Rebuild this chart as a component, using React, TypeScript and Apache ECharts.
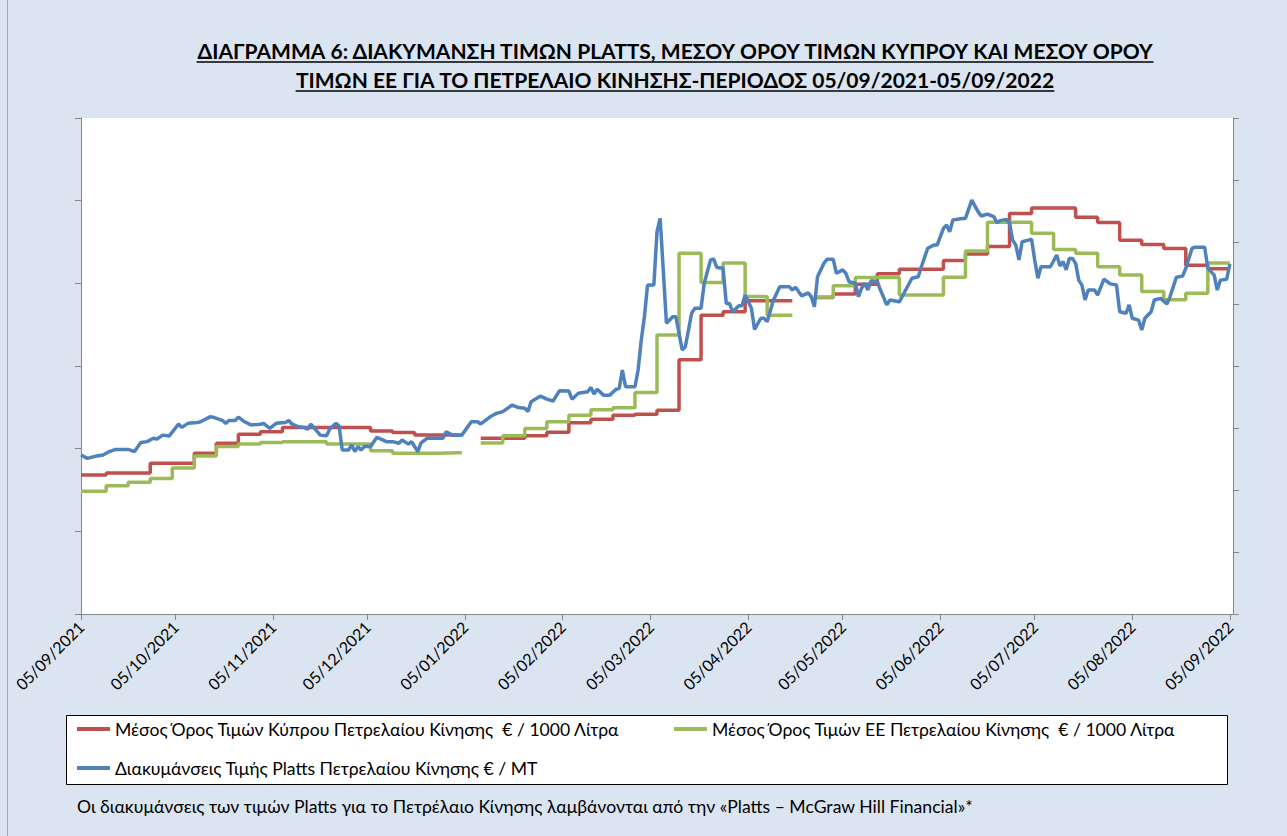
import React, { useEffect, useRef } from "react";
import * as echarts from "echarts";

// ---------- categories: one per day, 05/09/2021 .. 06/09/2022 ----------
const START_UTC = Date.UTC(2021, 8, 5);
const DAY_COUNT = 367;

// ---------- texts ----------
const TITLE_LINE_1 = "ΔΙΑΓΡΑΜΜΑ 6: ΔΙΑΚΥΜΑΝΣΗ ΤΙΜΩΝ PLATTS, ΜΕΣΟΥ ΟΡΟΥ ΤΙΜΩΝ ΚΥΠΡΟΥ ΚΑΙ ΜΕΣΟΥ ΟΡΟΥ";
const TITLE_LINE_2 = "ΤΙΜΩΝ ΕΕ ΓΙΑ ΤΟ ΠΕΤΡΕΛΑΙΟ ΚΙΝΗΣΗΣ-ΠΕΡΙΟΔΟΣ 05/09/2021-05/09/2022";
const NAME_CY = "Μέσος Όρος Τιμών Κύπρου Πετρελαίου Κίνησης  € / 1000 Λίτρα";
const NAME_EU = "Μέσος Όρος Τιμών ΕΕ Πετρελαίου Κίνησης  € / 1000 Λίτρα";
const NAME_PLATTS = "Διακυμάνσεις Τιμής Platts Πετρελαίου Κίνησης € / MT";
const FOOTNOTE = "Οι διακυμάνσεις των τιμών Platts για το Πετρέλαιο Κίνησης λαμβάνονται από την «Platts – McGraw Hill Financial»*";

// ---------- Cyprus average (left axis, € / 1000 L); null = gap ----------
const cyDays = [
  0, 8, 22, 36, 43, 50, 57, 64, 92, 99, 106, 120, 121,
  127, 141, 148, 155, 162, 169, 176, 183, 190, 197, 204, 211, 225, 226,
  233, 239, 246, 253, 260, 274, 281, 288, 295, 302, 316, 323, 330, 337, 344, 351, 358, 365,
];
const cyValues = [
  1336, 1341, 1365, 1389, 1413, 1435, 1441, 1451, 1443, 1439, 1433, 1433, null,
  1425, 1431, 1440, 1463, 1471, 1481, 1483, 1493, 1615, 1723, 1731, 1758, 1758, null,
  1766, 1774, 1798, 1823, 1834, 1855, 1871, 1889, 1969, 1982, 1960, 1947, 1904, 1894, 1884, 1844, 1835, 1835,
];

// ---------- EU average (left axis, € / 1000 L); null = gap ----------
const euDays = [
  0, 8, 15, 22, 29, 36, 43, 50, 57, 64, 78, 92, 99, 113, 120, 121,
  127, 134, 141, 148, 155, 162, 169, 176, 183, 190, 197, 204, 211, 218, 225, 226,
  233, 239, 246, 260, 274, 281, 288, 302, 309, 316, 323, 330, 337, 344, 351, 358, 365,
];
const euValues = [
  1297, 1310, 1319, 1328, 1353, 1382, 1405, 1411, 1415, 1417, 1411, 1395, 1389, 1390, 1390, null,
  1414, 1431, 1449, 1465, 1481, 1494, 1499, 1536, 1675, 1873, 1802, 1849, 1768, 1723, 1723, null,
  1767, 1794, 1814, 1772, 1815, 1878, 1948, 1921, 1882, 1873, 1840, 1820, 1780, 1760, 1776, 1849, 1849,
];

// ---------- Platts (right axis, € / MT) ----------
const plattsDays = [
  0, 2, 5, 7, 9, 11, 15, 17, 19, 21, 23, 24, 26, 28, 31, 32, 34, 37, 38, 41, 42, 45, 46, 47, 49, 50,
  52, 54, 57, 58, 60, 62, 65, 66, 67, 69, 71, 72, 73, 74, 76, 78, 79, 81, 82, 83, 85, 86, 87, 88, 89,
  90, 92, 94, 96, 97, 99, 101, 102, 104, 105, 107, 108, 110, 115, 116, 118, 121, 124, 126, 127, 130,
  131, 132, 134, 137, 139, 141, 142, 143, 146, 148, 150, 152, 155, 156, 158, 161, 162, 163, 164, 166,
  168, 170, 171, 172, 173, 176, 177, 178, 179, 180, 182, 183, 184, 186, 188, 189, 191, 192, 194, 195,
  197, 198, 200, 201, 202, 204, 205, 206, 207, 209, 210, 211, 213, 214, 216, 217, 218, 220, 222, 225,
  226, 227, 229, 231, 232, 233, 234, 236, 237, 239, 240, 242, 243, 244, 246, 247, 248, 249, 250, 251,
  253, 254, 256, 257, 260, 262, 264, 266, 267, 269, 271, 272, 274, 275, 276, 277, 280, 281, 283, 285,
  286, 287, 288, 290, 291, 292, 294, 295, 296, 297, 298, 299, 301, 302, 303, 304, 305, 308, 310, 311,
  312, 313, 314, 315, 316, 317, 318, 319, 320, 322, 323, 325, 327, 329, 330, 332, 333, 334, 336, 337,
  338, 340, 341, 343, 345, 346, 348, 350, 351, 353, 354, 357, 358, 360, 361, 362, 364, 365,
];
const plattsValues = [
  513, 502, 510, 513, 524, 531, 531, 524, 553, 556, 567, 564, 577, 574, 613, 602, 615, 618, 620, 636, 635, 624, 615, 624, 624, 635,
  620, 610, 612, 615, 599, 615, 618, 624, 613, 604, 602, 596, 612, 601, 577, 575, 596, 615, 606, 529, 529, 545, 524, 540, 529,
  540, 540, 570, 561, 556, 556, 551, 561, 548, 556, 524, 551, 567, 567, 588, 577, 577, 620, 620, 613, 636,
  642, 647, 653, 674, 666, 664, 653, 685, 703, 693, 687, 720, 719, 693, 712, 717, 731, 710, 725, 706,
  706, 725, 728, 787, 733, 733, 787, 884, 959, 1061, 1061, 1233, 1276, 938, 959, 959, 852, 862, 970, 986,
  986, 1067, 1142, 1145, 1118, 1115, 1002, 1002, 975, 994, 994, 1029, 986, 918, 954, 954, 943, 1013, 1056, 1056,
  1045, 1054, 1026, 1036, 1024, 991, 1088, 1131, 1144, 1144, 1099, 1110, 1099, 1072, 1067, 1024, 1051, 1067, 1045, 1075,
  1072, 1045, 997, 1013, 1007, 1045, 1083, 1088, 1120, 1180, 1190, 1190, 1244, 1255, 1233, 1271, 1276, 1276, 1335, 1298,
  1284, 1287, 1290, 1282, 1262, 1269, 1273, 1260, 1206, 1190, 1142, 1201, 1206, 1209, 1142, 1083, 1120, 1120, 1158, 1123,
  1137, 1110, 1147, 1147, 1131, 1077, 1061, 1013, 1045, 1045, 1029, 1080, 1065, 1061, 975, 970, 997, 954, 948, 916,
  954, 975, 1013, 1018, 1000, 1024, 1086, 1090, 1115, 1180, 1183, 1183, 1115, 1094, 1045, 1077, 1080, 1129,
];

// ---------- axis scales (labels are hidden in the original) ----------
const LEFT_MIN = 1000;
const LEFT_MAX = 2200;
const LEFT_STEP = 200;
const RIGHT_MIN = 0;
const RIGHT_MAX = 1600;
const RIGHT_STEP = 200;

const COLOR_CY = "#C0504D";
const COLOR_EU = "#9BBB59";
const COLOR_PLATTS = "#4F81BD";
const BG = "#DBE5F1";
const AXIS_GRAY = "#868686";
const FONT = "Lato, 'Liberation Sans', sans-serif";

function pad(n: number) {
  return n < 10 ? "0" + n : String(n);
}
function buildDates(): string[] {
  const out: string[] = [];
  for (let i = 0; i < DAY_COUNT; i++) {
    const d = new Date(START_UTC + i * 86400000);
    out.push(pad(d.getUTCDate()) + "/" + pad(d.getUTCMonth() + 1) + "/" + d.getUTCFullYear());
  }
  return out;
}
function pairs(days: number[], values: (number | null)[]) {
  return days.map((d, i) => [d, values[i] === null ? "-" : values[i]]);
}
function measure(text: string, font: string) {
  const c = document.createElement("canvas").getContext("2d");
  if (!c) return text.length * 12;
  c.font = font;
  return c.measureText(text).width;
}

export default function App() {
  const ref = useRef<HTMLDivElement>(null);
  useEffect(() => {
    document.body.style.margin = "0";
    if (!ref.current) return;
    const chart = echarts.init(ref.current, null, { renderer: "svg" });
    const dates = buildDates();
    const monthTick = (_i: number, v: string) => v.startsWith("05/");

    const titleFont = "bold 21px " + FONT;
    const w1 = measure(TITLE_LINE_1, titleFont);
    const w2 = measure(TITLE_LINE_2, titleFont);
    const cx = 675;
    const y1 = 50;
    const y2 = 79;
    const legendText = { color: "#000", fontSize: 17.6, fontFamily: FONT };

    chart.setOption({
      animation: false,
      backgroundColor: BG,
      grid: { left: 81, right: 54, top: 118, bottom: 222, show: true, backgroundColor: "#FFFFFF", borderWidth: 0 },
      xAxis: {
        type: "category",
        data: dates,
        boundaryGap: false,
        axisLine: { lineStyle: { color: AXIS_GRAY, width: 1 } },
        axisTick: { show: true, interval: monthTick, length: 6, lineStyle: { color: AXIS_GRAY } },
        axisLabel: {
          interval: monthTick,
          rotate: 45,
          margin: 10,
          color: "#000",
          fontSize: 16,
          fontFamily: FONT,
        },
        splitLine: { show: false },
      },
      yAxis: [
        {
          type: "value",
          min: LEFT_MIN,
          max: LEFT_MAX,
          interval: LEFT_STEP,
          position: "left",
          axisLine: { show: true, lineStyle: { color: AXIS_GRAY } },
          axisTick: { show: true, length: 6, lineStyle: { color: AXIS_GRAY } },
          axisLabel: { show: false },
          splitLine: { show: false },
        },
        {
          type: "value",
          min: RIGHT_MIN,
          max: RIGHT_MAX,
          interval: RIGHT_STEP,
          position: "right",
          axisLine: { show: true, lineStyle: { color: AXIS_GRAY } },
          axisTick: { show: true, length: 6, lineStyle: { color: AXIS_GRAY } },
          axisLabel: { show: false },
          splitLine: { show: false },
        },
      ],
      legend: [
        {
          data: [NAME_CY],
          left: 72,
          top: 715,
          icon: "rect",
          itemWidth: 33,
          itemHeight: 4,
          itemGap: 0,
          textStyle: legendText,
        },
        {
          data: [NAME_EU],
          left: 669,
          top: 715,
          icon: "rect",
          itemWidth: 33,
          itemHeight: 4,
          itemGap: 0,
          textStyle: legendText,
        },
        {
          data: [NAME_PLATTS],
          left: 72,
          top: 754,
          icon: "rect",
          itemWidth: 33,
          itemHeight: 4,
          itemGap: 0,
          textStyle: legendText,
        },
      ],
      graphic: [
        {
          type: "line",
          shape: { x1: 7.5, y1: 0, x2: 7.5, y2: 836 },
          style: { stroke: "#A6A6A6", lineWidth: 1 },
        },
        {
          type: "rect",
          z: 0,
          shape: { x: 66.5, y: 715.5, width: 1161, height: 69 },
          style: { fill: "#FFFFFF", stroke: "#000000", lineWidth: 1 },
        },
        {
          type: "text",
          x: cx,
          y: y1,
          style: { text: TITLE_LINE_1, font: titleFont, fill: "#000", textAlign: "center", textVerticalAlign: "middle" },
        },
        {
          type: "text",
          x: cx,
          y: y2,
          style: { text: TITLE_LINE_2, font: titleFont, fill: "#000", textAlign: "center", textVerticalAlign: "middle" },
        },
        {
          type: "line",
          shape: { x1: cx - w1 / 2, y1: y1 + 12, x2: cx + w1 / 2, y2: y1 + 12 },
          style: { stroke: "#000", lineWidth: 1.5 },
        },
        {
          type: "line",
          shape: { x1: cx - w2 / 2, y1: y2 + 12, x2: cx + w2 / 2, y2: y2 + 12 },
          style: { stroke: "#000", lineWidth: 1.5 },
        },
        {
          type: "text",
          x: 77,
          y: 806,
          style: { text: FOOTNOTE, font: "17.6px " + FONT, fill: "#000", textAlign: "left", textVerticalAlign: "middle" },
        },
      ],
      series: [
        {
          name: NAME_CY,
          type: "line",
          yAxisIndex: 0,
          step: "end",
          data: pairs(cyDays, cyValues),
          showSymbol: false,
          symbol: "none",
          connectNulls: false,
          lineStyle: { color: COLOR_CY, width: 3.5 },
          itemStyle: { color: COLOR_CY },
          z: 2,
        },
        {
          name: NAME_EU,
          type: "line",
          yAxisIndex: 0,
          step: "end",
          data: pairs(euDays, euValues),
          showSymbol: false,
          symbol: "none",
          connectNulls: false,
          lineStyle: { color: COLOR_EU, width: 3.5 },
          itemStyle: { color: COLOR_EU },
          z: 3,
        },
        {
          name: NAME_PLATTS,
          type: "line",
          yAxisIndex: 1,
          data: pairs(plattsDays, plattsValues),
          showSymbol: false,
          symbol: "none",
          lineStyle: { color: COLOR_PLATTS, width: 3.5 },
          itemStyle: { color: COLOR_PLATTS },
          z: 4,
        },
      ],
    });
    return () => chart.dispose();
  }, []);
  return <div ref={ref} style={{ width: 1287, height: 836 }} />;
}
